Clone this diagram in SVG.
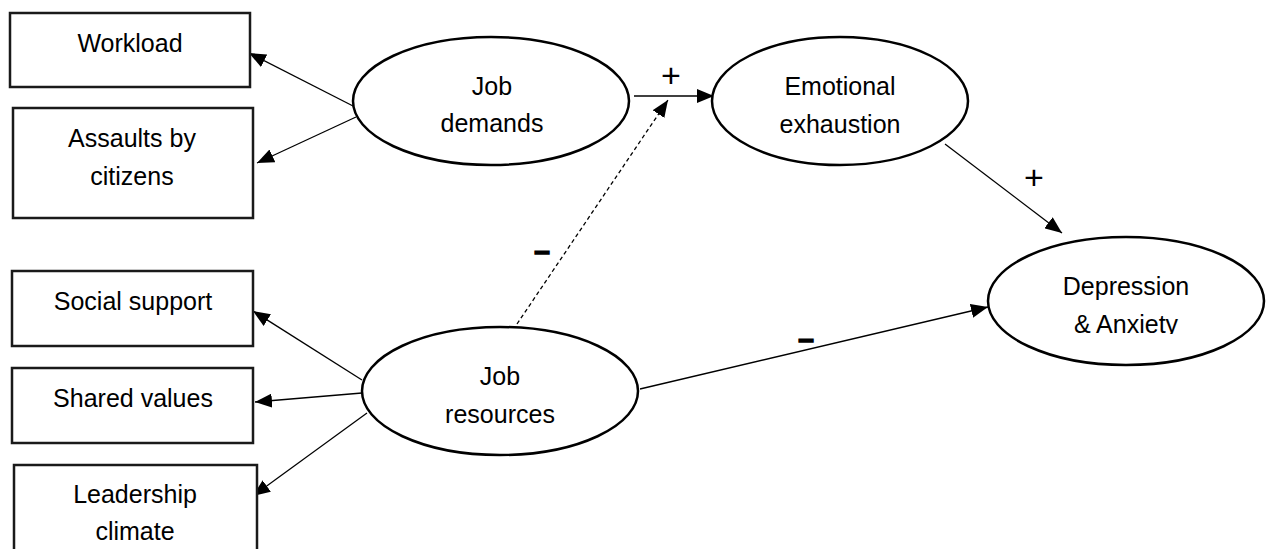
<svg xmlns="http://www.w3.org/2000/svg" width="1267" height="549" viewBox="0 0 1267 549">
<style>
.box{fill:#fff;stroke:#1a1a1a;stroke-width:2.5}
.ell{fill:#fff;stroke:#000;stroke-width:2.5}
.t{font-family:"Liberation Sans",Arial,sans-serif;font-size:25px;fill:#000;text-anchor:middle}
.sign{font-family:"Liberation Sans",Arial,sans-serif;font-size:28px;fill:#000;text-anchor:middle}
.plus{font-family:"Liberation Sans",Arial,sans-serif;font-size:34px;fill:#000;text-anchor:middle}
.c{stroke:#000;stroke-width:1.3;fill:none}
</style>
<defs>
<marker id="ah" viewBox="0 0 17 14" refX="17" refY="7" markerWidth="17" markerHeight="14" markerUnits="userSpaceOnUse" orient="auto">
<path d="M0,0 L17,7 L0,14 z" fill="#000"/>
</marker>
<clipPath id="clipDep"><rect x="980" y="230" width="290" height="104"/></clipPath>
</defs>
<rect width="1267" height="549" fill="#fff"/>
<g id="connectors">
<line class="c" x1="355" y1="107" x2="249" y2="53" marker-end="url(#ah)"/>
<line class="c" x1="356" y1="117" x2="257" y2="163" marker-end="url(#ah)"/>
<line class="c" x1="634" y1="96" x2="714" y2="96" stroke="#444" stroke-width="2" marker-end="url(#ah)"/>
<line class="c" x1="517" y1="324" x2="668" y2="100" stroke-dasharray="4,3" marker-end="url(#ah)"/>
<line class="c" x1="945" y1="144" x2="1062" y2="233" marker-end="url(#ah)"/>
<line class="c" x1="640" y1="389" x2="988" y2="307" marker-end="url(#ah)"/>
<line class="c" x1="362" y1="380" x2="253" y2="311" marker-end="url(#ah)"/>
<line class="c" x1="362" y1="393" x2="255" y2="402" marker-end="url(#ah)"/>
<line class="c" x1="367" y1="413" x2="253" y2="496" marker-end="url(#ah)"/>
<text class="plus" x="671" y="87">+</text>
<text class="plus" x="1034" y="189">+</text>
<text class="sign" x="542" y="260" font-weight="bold" stroke="#000" stroke-width="1.5">–</text>
<text class="sign" x="806" y="348" font-weight="bold" stroke="#000" stroke-width="1.5">–</text>
</g>
<g id="workload">
<rect class="box" x="10" y="13" width="240" height="74"/>
<text class="t" x="130" y="52">Workload</text>
</g>
<g id="assaults">
<rect class="box" x="13" y="108" width="240" height="110"/>
<text class="t" x="132" y="147">Assaults by</text>
<text class="t" x="132" y="185">citizens</text>
</g>
<g id="social-support">
<rect class="box" x="12" y="271" width="241" height="75"/>
<text class="t" x="133" y="310">Social support</text>
</g>
<g id="shared-values">
<rect class="box" x="12" y="368" width="241" height="75"/>
<text class="t" x="133" y="407">Shared values</text>
</g>
<g id="leadership">
<rect class="box" x="14" y="465" width="243" height="100"/>
<text class="t" x="135" y="503">Leadership</text>
<text class="t" x="135" y="540">climate</text>
</g>
<g id="job-demands">
<ellipse class="ell" cx="491" cy="101" rx="138" ry="64"/>
<text class="t" x="492" y="95">Job</text>
<text class="t" x="492" y="132">demands</text>
</g>
<g id="emotional-exhaustion">
<ellipse class="ell" cx="840" cy="101" rx="128" ry="64"/>
<text class="t" x="840" y="95">Emotional</text>
<text class="t" x="840" y="133">exhaustion</text>
</g>
<g id="depression-anxiety">
<ellipse class="ell" cx="1126" cy="301" rx="138" ry="64"/>
<g clip-path="url(#clipDep)">
<text class="t" x="1126" y="295">Depression</text>
<text class="t" x="1126" y="333">&amp; Anxiety</text>
</g>
</g>
<g id="job-resources">
<ellipse class="ell" cx="500" cy="391" rx="138" ry="64"/>
<text class="t" x="500" y="385">Job</text>
<text class="t" x="500" y="423">resources</text>
</g>
</svg>
